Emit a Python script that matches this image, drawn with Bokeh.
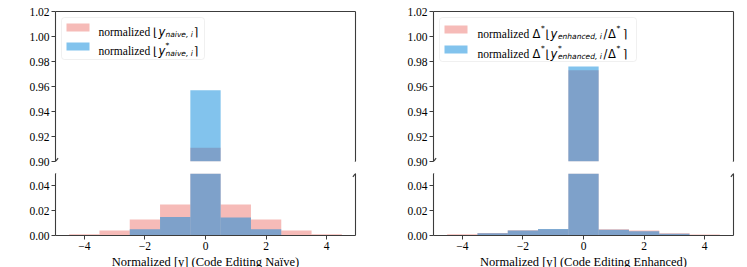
from bokeh.plotting import figure
from bokeh.models import (Range1d, FixedTicker, LinearAxis, Label, BoxAnnotation,
                          Arrow, ColumnDataSource, CDSView, BooleanFilter)
from bokeh.layouts import row, column
from bokeh.embed import file_html
from bokeh.resources import INLINE

# ---------------- data ----------------
bins = [-4, -3, -2, -1, 0, 1, 2, 3, 4]
naive = [0.001, 0.004, 0.013, 0.025, 0.911, 0.025, 0.013, 0.004, 0.001]
naive_star = [0.0004, 0.0005, 0.005, 0.015, 0.957, 0.0145, 0.005, 0.0005, 0.0003]
enhanced = [0.001, 0.002, 0.0042, 0.005, 0.973, 0.005, 0.004, 0.0018, 0.0008]
enhanced_star = [0.0005, 0.0018, 0.004, 0.0052, 0.976, 0.0047, 0.0035, 0.0015, 0.0003]

x_ticks = [-4, -2, 0, 2, 4]
x_tick_labels = ["\u22124", "\u22122", "0", "2", "4"]
up_ticks = [0.90, 0.92, 0.94, 0.96, 0.98, 1.00, 1.02]
up_tick_labels = ["0.90", "0.92", "0.94", "0.96", "0.98", "1.00", "1.02"]
lo_ticks = [0.00, 0.02, 0.04]
lo_tick_labels = ["0.00", "0.02", "0.04"]
x_labels = ["Normalized [y] (Code Editing Na\u00efve)",
            "Normalized [y] (Code Editing Enhanced)"]

# ---------------- style ----------------
RED = "#ED7771"
BLUE = "#0587DB"
ALPHA = 0.5
SP = "#3c3c3c"
SERIF = "Liberation Serif"
MATH = "DejaVu Sans"
TICK_FS = "11.5px"
LAB_FS = "12.5px"
X_RANGE = (-4.95, 4.95)
UP_RANGE = (0.90, 1.02)
LO_RANGE = (0.0, 0.05)
FW = 300
UPH = 150
LOH = 62


def style_axis(ax):
    ax.axis_line_color = SP
    ax.axis_line_width = 1.1
    ax.major_tick_line_color = SP
    ax.major_tick_out = 4
    ax.major_tick_in = 0
    ax.minor_tick_line_color = None
    ax.minor_tick_out = 0
    ax.minor_tick_in = 0
    ax.major_label_standoff = 2
    ax.major_label_text_font = SERIF
    ax.major_label_text_font_size = TICK_FS
    ax.major_label_text_color = "black"


def blank_axis():
    return LinearAxis(ticker=FixedTicker(ticks=[]), axis_line_color=SP,
                      axis_line_width=1.1, major_tick_out=0, major_tick_in=0,
                      minor_tick_out=0, minor_tick_in=0, major_label_standoff=0)


def add_bars(p, red, blue, y_min):
    # only bars that reach into the visible y-range are drawn
    for vals, color in ((red, RED), (blue, BLUE)):
        src = ColumnDataSource(dict(x=bins, top=vals))
        view = CDSView(filter=BooleanFilter([v > y_min for v in vals]))
        p.vbar(x="x", width=1, bottom=0, top="top", source=src, view=view,
               fill_color=color, fill_alpha=ALPHA, line_color=None)


def break_mark(p, xv, yv, dx, dy):
    p.add_layout(Arrow(end=None, x_start=xv - dx, y_start=yv - dy,
                       x_end=xv + dx, y_end=yv + dy,
                       line_color=SP, line_width=1.2))


def make_panel(red, blue, xlabel, legend_spec, left_border, right_border):
    xr = Range1d(*X_RANGE)
    up = figure(frame_width=FW, frame_height=UPH, x_range=xr,
                y_range=Range1d(*UP_RANGE), output_backend="svg",
                toolbar_location=None, x_axis_location="above",
                min_border_left=left_border, min_border_right=right_border,
                min_border_top=11, min_border_bottom=6)
    lo = figure(frame_width=FW, frame_height=LOH, x_range=xr,
                y_range=Range1d(*LO_RANGE), output_backend="svg",
                toolbar_location=None,
                min_border_left=left_border, min_border_right=right_border,
                min_border_top=6, min_border_bottom=32)
    for p, yr in ((up, UP_RANGE), (lo, LO_RANGE)):
        p.grid.visible = False
        p.outline_line_color = None
        p.background_fill_color = "white"
        p.border_fill_color = "white"
        style_axis(p.yaxis[0])
        p.add_layout(blank_axis(), "right")
        add_bars(p, red, blue, yr[0])

    # upper: top spine only, no ticks
    ax = up.xaxis[0]
    ax.ticker = FixedTicker(ticks=[])
    ax.axis_line_color = SP
    ax.axis_line_width = 1.1
    ax.major_tick_out = 0
    ax.minor_tick_out = 0
    ax.major_label_standoff = 0
    up.yaxis[0].ticker = FixedTicker(ticks=up_ticks)
    up.yaxis[0].major_label_overrides = dict(zip(up_ticks, up_tick_labels))

    lo.yaxis[0].ticker = FixedTicker(ticks=lo_ticks)
    lo.yaxis[0].major_label_overrides = dict(zip(lo_ticks, lo_tick_labels))
    bx = lo.xaxis[0]
    style_axis(bx)
    bx.ticker = FixedTicker(ticks=x_ticks)
    bx.major_label_overrides = dict(zip(x_ticks, x_tick_labels))
    bx.axis_label = xlabel
    bx.axis_label_text_font = SERIF
    bx.axis_label_text_font_size = LAB_FS
    bx.axis_label_text_font_style = "normal"
    bx.axis_label_text_color = "black"
    bx.axis_label_standoff = 2

    # break marks
    dx = 2.6 * (X_RANGE[1] - X_RANGE[0]) / FW
    dyu = 3.4 * (UP_RANGE[1] - UP_RANGE[0]) / UPH
    dyl = 3.4 * (LO_RANGE[1] - LO_RANGE[0]) / LOH
    for xv in X_RANGE:
        break_mark(up, xv, UP_RANGE[0], dx, dyu)
        break_mark(lo, xv, LO_RANGE[1], dx, dyl)

    # legend (manual, to keep the math pieces)
    box_l, box_r, box_t, box_b, rows = legend_spec
    up.add_layout(BoxAnnotation(left=box_l, right=box_r, top=UPH - box_t,
                                bottom=UPH - box_b, left_units="screen",
                                right_units="screen", top_units="screen",
                                bottom_units="screen", fill_color="white",
                                fill_alpha=0.85, line_color="#cccccc",
                                line_width=1, border_radius=3, level="overlay"))
    for color, rc, pieces in rows:
        up.add_layout(BoxAnnotation(left=box_l + 5, right=box_l + 28,
                                    top=UPH - rc + 4, bottom=UPH - rc - 4,
                                    left_units="screen", right_units="screen",
                                    top_units="screen", bottom_units="screen",
                                    fill_color=color, fill_alpha=ALPHA,
                                    line_color=None, level="overlay"))
        for text, xo, dy, font, size, style in pieces:
            up.add_layout(Label(x=xo, y=UPH - rc - 4 + dy, x_units="screen",
                                y_units="screen", text=text, text_font=font,
                                text_font_size=size, text_font_style=style,
                                text_color="black", text_baseline="alphabetic",
                                level="overlay"))
    return column(up, lo, spacing=0)


def naive_row(star):
    pieces = [("normalized", 43, 0, SERIF, TICK_FS, "normal"),
              ("\u230a", 97.5, 0, MATH, TICK_FS, "normal"),
              ("y", 103, 0, MATH, TICK_FS, "italic"),
              ("naive, i", 110, -3, MATH, "7.5px", "italic"),
              ("\u2309", 138.5, 0, MATH, TICK_FS, "normal")]
    if star:
        pieces.append(("*", 110, 5, MATH, "7.5px", "normal"))
    return pieces


def enh_row(star):
    pieces = [("normalized", 44, 0, SERIF, TICK_FS, "normal"),
              ("\u0394", 99, 0, MATH, TICK_FS, "normal"),
              ("*", 107.5, 5, MATH, "7.5px", "normal"),
              ("\u230a", 112, 0, MATH, TICK_FS, "normal"),
              ("y", 117, 0, MATH, TICK_FS, "italic"),
              ("enhanced, i", 124.5, -3, MATH, "7.5px", "italic"),
              ("/", 170, 0, MATH, TICK_FS, "normal"),
              ("\u0394", 174.5, 0, MATH, TICK_FS, "normal"),
              ("*", 183, 5, MATH, "7.5px", "normal"),
              ("\u2309", 189.5, 0, MATH, TICK_FS, "normal")]
    if star:
        pieces.insert(5, ("*", 124.5, 5, MATH, "7.5px", "normal"))
    return pieces


left = make_panel(naive, naive_star, x_labels[0],
                  (6, 149, 6, 48, [(RED, 16, naive_row(False)),
                                   (BLUE, 35, naive_row(True))]), 55, 31)
right = make_panel(enhanced, enhanced_star, x_labels[1],
                   (6, 203, 6, 50, [(RED, 18, enh_row(False)),
                                    (BLUE, 38, enh_row(True))]), 47, 14)

layout = row(left, right, spacing=0)
open("out.html", "w").write(file_html(layout, INLINE))
